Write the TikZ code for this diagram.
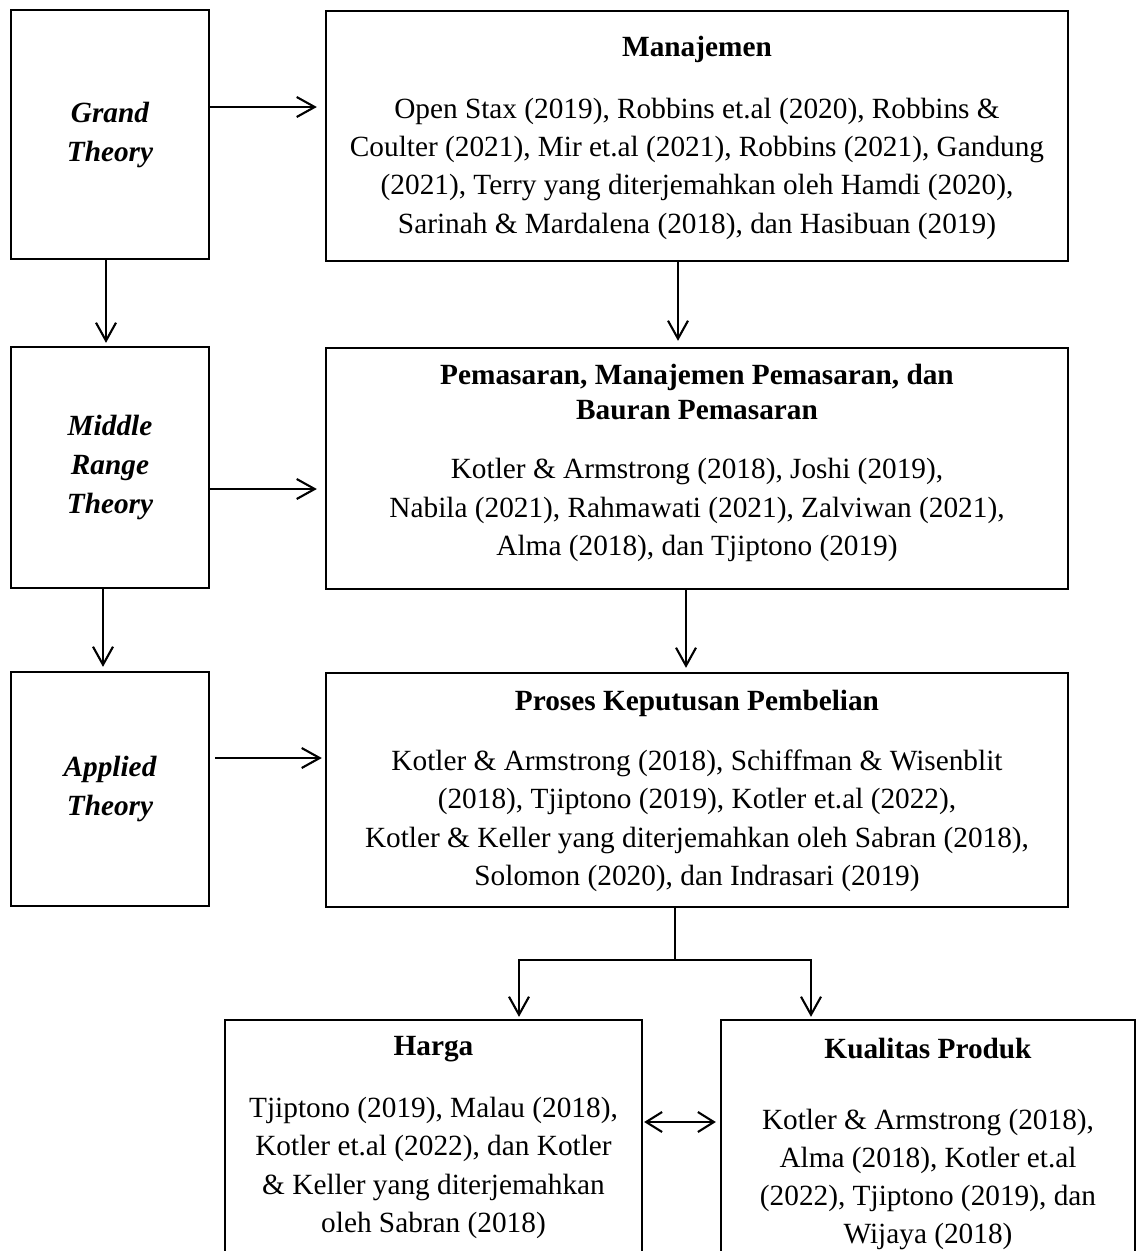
\documentclass[tikz,border=0pt]{standalone}
\usepackage{fontspec}
\setmainfont{Liberation Serif}
\usetikzlibrary{arrows.meta}
\begin{document}
\begin{tikzpicture}[x=1pt,y=-1pt,
  box/.style={draw, line width=2.3pt, inner sep=0pt},
  txt/.style={align=center, inner sep=0pt, font=\fontsize{29.3}{38.3}\selectfont},
  lbl/.style={align=center, inner sep=0pt, font=\fontsize{29.3}{39}\selectfont\bfseries\itshape},
  conn/.style={line width=2.1pt},
  arr/.style={conn, -{Straight Barb[length=18pt,width=20pt]}},
  darr/.style={conn, {Straight Barb[length=16pt,width=20pt]}-{Straight Barb[length=16pt,width=20pt]}}]
\useasboundingbox (0,0) rectangle (1136,1251);

% left column
\node[box, lbl, minimum width=198pt, minimum height=249pt] (grand) at (110,134.5) {Grand\\Theory};
\node[box, lbl, minimum width=198pt, minimum height=241pt] (middle) at (110,467.5) {Middle\\Range\\Theory};
\node[box, lbl, minimum width=198pt, minimum height=234pt] (applied) at (110,789) {Applied\\Theory};

% right column boxes
\node[box, minimum width=742pt, minimum height=250pt] (man) at (697,136) {};
\node[box, minimum width=742pt, minimum height=241pt] (pem) at (697,468.5) {};
\node[box, minimum width=742pt, minimum height=234pt] (pro) at (697,790) {};
\node[box, minimum width=417pt, minimum height=242pt] (harga) at (433.5,1141) {};
\node[box, minimum width=414pt, minimum height=242pt] (kual) at (928,1141) {};

% texts
\node[txt] (manT) at (697,138) {\textbf{Manajemen}\\[23pt]
  Open Stax (2019), Robbins et.al (2020), Robbins \&\\
  Coulter (2021), Mir et.al (2021), Robbins (2021), Gandung\\
  (2021), Terry yang diterjemahkan oleh Hamdi (2020),\\
  Sarinah \& Mardalena (2018), dan Hasibuan (2019)};
\node[txt] (pemT) at (697,463) {\textbf{Pemasaran, Manajemen Pemasaran, dan}\\[-3.3pt]
  \textbf{Bauran Pemasaran}\\[20.7pt]
  Kotler \& Armstrong (2018), Joshi (2019),\\
  Nabila (2021), Rahmawati (2021), Zalviwan (2021),\\
  Alma (2018), dan Tjiptono (2019)};
\node[txt] (proT) at (697,791) {\textbf{Proses Keputusan Pembelian}\\[21.7pt]
  Kotler \& Armstrong (2018), Schiffman \& Wisenblit\\
  (2018), Tjiptono (2019), Kotler et.al (2022),\\
  Kotler \& Keller yang diterjemahkan oleh Sabran (2018),\\
  Solomon (2020), dan Indrasari (2019)};
\node[txt] (hargaT) at (433.5,1137.5) {\textbf{Harga}\\[23.7pt]
  Tjiptono (2019), Malau (2018),\\
  Kotler et.al (2022), dan Kotler\\
  \& Keller yang diterjemahkan\\
  oleh Sabran (2018)};
\node[txt] (kualT) at (928,1144) {\textbf{Kualitas Produk}\\[32.7pt]
  Kotler \& Armstrong (2018),\\
  Alma (2018), Kotler et.al\\
  (2022), Tjiptono (2019), dan\\
  Wijaya (2018)};

% horizontal arrows left -> right
\draw[arr, shorten >=8pt] ([yshift=27.5pt]grand.east) -- ([yshift=27.5pt]grand.east -| man.west);
\draw[arr, shorten >=8pt] ([yshift=-21.5pt]middle.east) -- ([yshift=-21.5pt]middle.east -| pem.west);
\draw[arr, shorten <=5pt, shorten >=3pt] ([yshift=31pt]applied.east) -- ([yshift=31pt]applied.east -| pro.west);

% vertical arrows
\draw[arr, shorten >=3pt] ([xshift=-4pt]grand.south) -- ([xshift=-4pt]grand.south |- middle.north);
\draw[arr, shorten >=4pt] ([xshift=-7pt]middle.south) -- ([xshift=-7pt]middle.south |- applied.north);
\draw[arr, shorten >=6pt] ([xshift=-19pt]man.south) -- ([xshift=-19pt]man.south |- pem.north);
\draw[arr, shorten >=4pt] ([xshift=-11pt]pem.south) -- ([xshift=-11pt]pem.south |- pro.north);

% branch
\coordinate (split) at (675,960);
\coordinate (hl) at (519,960);
\coordinate (kr) at (811,960);
\draw[conn] (pro.south -| split) -- (split);
\draw[arr, shorten >=2pt] (split) -- (hl) -- (hl |- harga.north);
\draw[arr, shorten >=2pt] (split) -- (kr) -- (kr |- kual.north);

% double arrow
\coordinate (dbl) at (680,1122);
\draw[darr, shorten <=1pt, shorten >=4pt] (harga.east |- dbl) -- (kual.west |- dbl);
\end{tikzpicture}
\end{document}
